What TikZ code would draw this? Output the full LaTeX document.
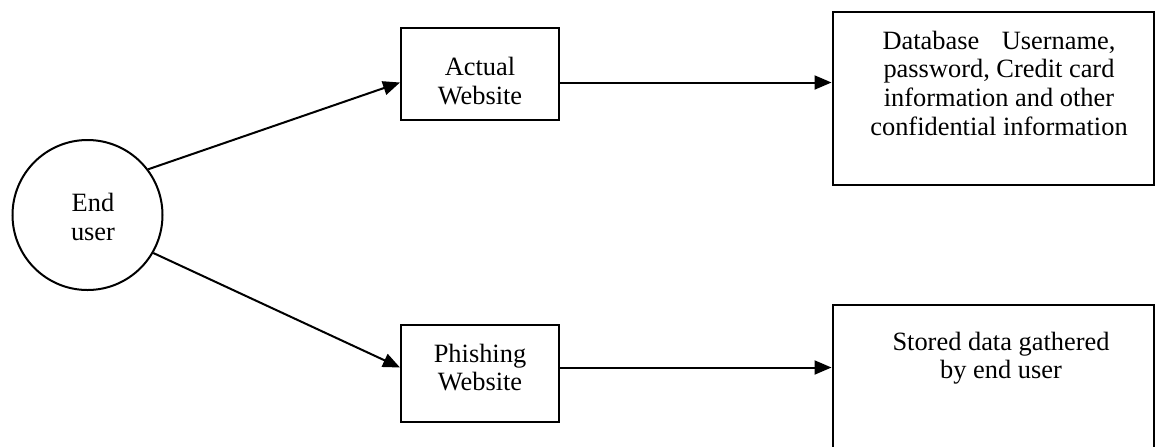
\documentclass[tikz,border=0pt]{standalone}
\usepackage{fontspec}
\setmainfont{Liberation Serif}
\usetikzlibrary{arrows.meta}
\begin{document}
\begin{tikzpicture}[x=0.5pt,y=-0.5pt,
  line width=1pt,
  every node/.style={font=\fontsize{13.2pt}{14.3pt}\selectfont, align=center, inner sep=0pt},
  userbox/.style={draw, circle, minimum size=75pt},
  sitebox/.style={draw, rectangle, minimum width=79pt},
  storebox/.style={draw, rectangle, minimum width=160.5pt},
  arr/.style={-{Triangle[length=8.5pt,width=7pt]}}]
\useasboundingbox (0,0) rectangle (1157,446);
\begin{scope}
\clip (0,0) rectangle (1157,446);
% end user
\node[userbox] (eu) at (87.5,215) {};
\node (eutxt) at (93,217) {End\\user};
% websites
\node[sitebox, minimum height=46pt] (act) at (480,74) {};
\node (acttxt) at (480,81) {Actual\\Website};
\node[sitebox, minimum height=48.5pt] (phi) at (480,373.5) {};
\node (phitxt) at (480,367.5) {Phishing\\Website};
% data stores
\node[storebox, minimum height=86.5pt] (db) at (993,98.5) {};
\node[anchor=north] (dbtxt) at (999,30) {Database\hspace{0.85em}Username,\\password, Credit card\\information and other\\confidential information};
\node[storebox, minimum height=90pt] (st) at (993,395) {};
\node[anchor=north] (sttxt) at (1001,331) {Stored data gathered\\by end user};
% connectors
\draw[arr] (eu.37) -- (act.west |- 0,82.5);
\draw[arr] (eu.-30) -- (phi.west |- phitxt);
\draw[arr] (act.east |- 0,82.5) -- (db.west |- 0,82.5);
\draw[arr] (phitxt -| phi.east) -- (phitxt -| st.west);
\end{scope}
\end{tikzpicture}
\end{document}
